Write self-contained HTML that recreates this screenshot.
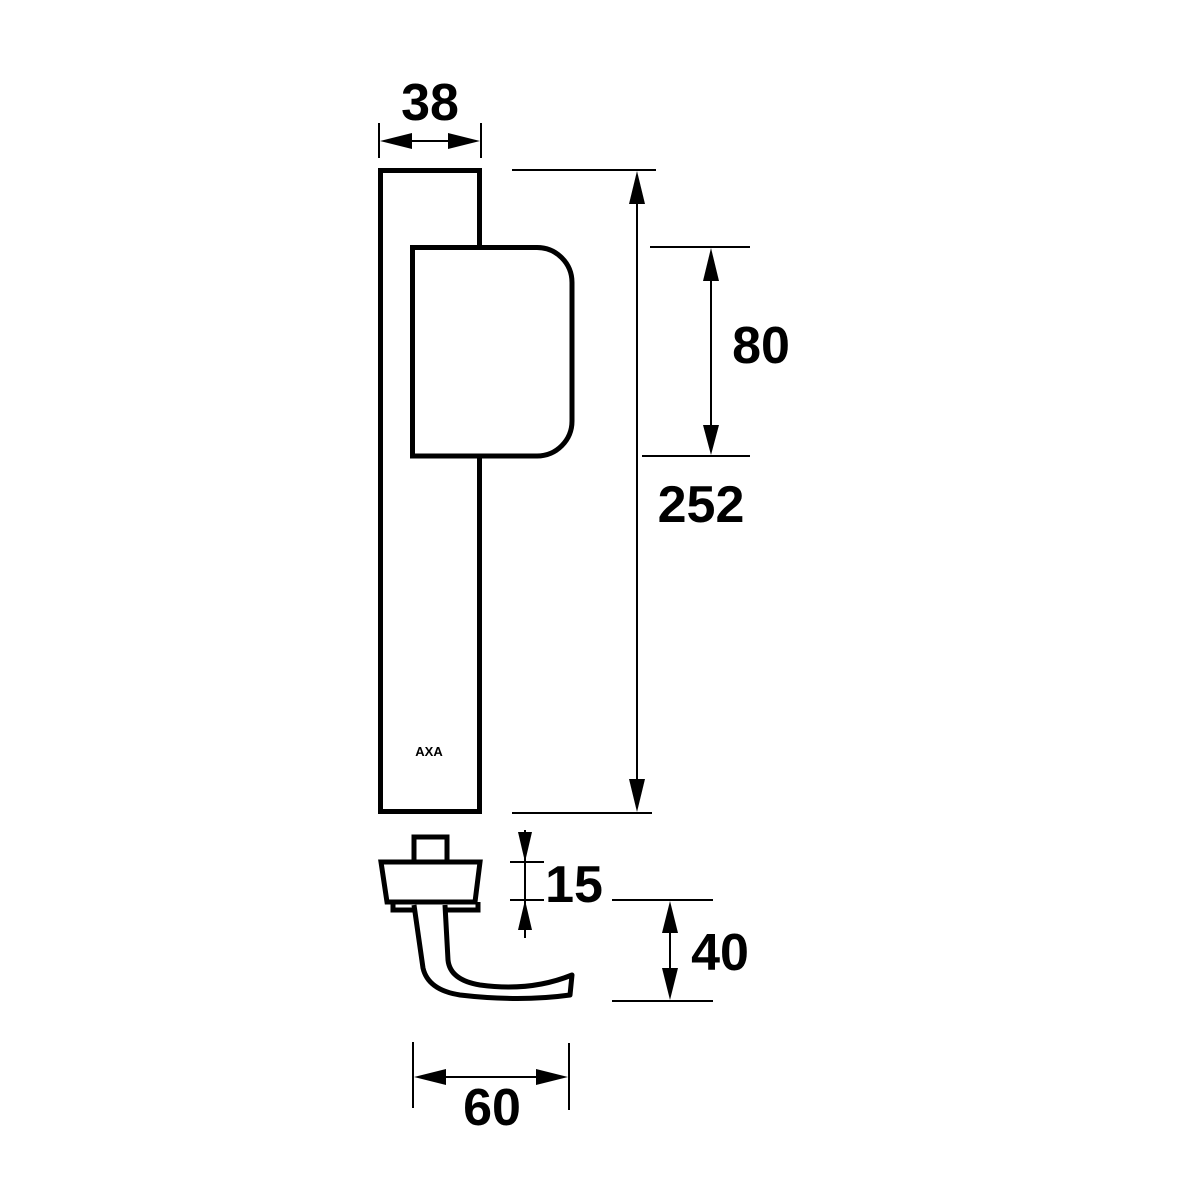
<!DOCTYPE html>
<html><head><style>html,body{margin:0;padding:0;background:#fff}svg{display:block}</style></head>
<body>
<svg width="1181" height="1181" viewBox="0 0 1181 1181" xmlns="http://www.w3.org/2000/svg" font-family="Liberation Sans, sans-serif" font-weight="bold">
<rect width="1181" height="1181" fill="#fff"/>
<!-- plate -->
<rect x="380.5" y="170.5" width="99" height="641" fill="none" stroke="#000" stroke-width="5"/>
<path d="M412.5,247.5 H537 A35,35 0 0 1 572,282.5 V421 A35,35 0 0 1 537,456 H412.5 Z" fill="#fff" stroke="#000" stroke-width="5"/>
<text x="429" y="756" font-size="13" text-anchor="middle">AXA</text>
<!-- 38 -->
<line x1="379" y1="123" x2="379" y2="158" stroke="#000" stroke-width="2"/>
<line x1="481" y1="123" x2="481" y2="158" stroke="#000" stroke-width="2"/>
<line x1="400" y1="141" x2="460" y2="141" stroke="#000" stroke-width="2"/>
<polygon points="380,141 412,133 412,149" fill="#000"/>
<polygon points="480,141 448,133 448,149" fill="#000"/>
<text x="430" y="120" font-size="52" text-anchor="middle">38</text>
<!-- 252 -->
<line x1="512" y1="170" x2="656" y2="170" stroke="#000" stroke-width="2"/>
<line x1="512" y1="813" x2="652" y2="813" stroke="#000" stroke-width="2"/>
<line x1="637" y1="190" x2="637" y2="795" stroke="#000" stroke-width="2"/>
<polygon points="637,171 629,204 645,204" fill="#000"/>
<polygon points="637,812 629,779 645,779" fill="#000"/>
<text x="701" y="522" font-size="52" text-anchor="middle">252</text>
<!-- 80 -->
<line x1="650" y1="247" x2="750" y2="247" stroke="#000" stroke-width="2"/>
<line x1="642" y1="456" x2="750" y2="456" stroke="#000" stroke-width="2"/>
<line x1="711" y1="265" x2="711" y2="440" stroke="#000" stroke-width="2"/>
<polygon points="711,248 703,281 719,281" fill="#000"/>
<polygon points="711,455 703,425 719,425" fill="#000"/>
<text x="761" y="363" font-size="52" text-anchor="middle">80</text>
<!-- handle -->
<rect x="414" y="837" width="33" height="26" fill="#fff" stroke="#000" stroke-width="5"/>
<path d="M393,902 V910 H478 V902" fill="none" stroke="#000" stroke-width="5"/>
<path d="M381,862 H480 L475,902 H387 Z" fill="#fff" stroke="#000" stroke-width="5"/>
<path d="M414,905 L423,968 Q428,990 460,995 Q520,1002 570,995 L572,975 Q530,992 480,985 Q450,980 448,960 L445,905" fill="#fff" stroke="#000" stroke-width="5" stroke-linejoin="round"/>
<!-- 15 -->
<line x1="510" y1="862" x2="544" y2="862" stroke="#000" stroke-width="2"/>
<line x1="510" y1="900" x2="544" y2="900" stroke="#000" stroke-width="2"/>
<line x1="525" y1="830" x2="525" y2="938" stroke="#000" stroke-width="2"/>
<polygon points="525,862 518,832 532,832" fill="#000"/>
<polygon points="525,900 518,930 532,930" fill="#000"/>
<text x="574" y="902" font-size="52" text-anchor="middle">15</text>
<!-- 40 -->
<line x1="612" y1="900" x2="713" y2="900" stroke="#000" stroke-width="2"/>
<line x1="612" y1="1001" x2="713" y2="1001" stroke="#000" stroke-width="2"/>
<line x1="670" y1="920" x2="670" y2="982" stroke="#000" stroke-width="2"/>
<polygon points="670,901 662,933 678,933" fill="#000"/>
<polygon points="670,1000 662,968 678,968" fill="#000"/>
<text x="720" y="970" font-size="52" text-anchor="middle">40</text>
<!-- 60 -->
<line x1="413" y1="1042" x2="413" y2="1108" stroke="#000" stroke-width="2"/>
<line x1="569" y1="1043" x2="569" y2="1110" stroke="#000" stroke-width="2"/>
<line x1="430" y1="1077" x2="552" y2="1077" stroke="#000" stroke-width="2"/>
<polygon points="414,1077 446,1069 446,1085" fill="#000"/>
<polygon points="568,1077 536,1069 536,1085" fill="#000"/>
<text x="492" y="1125" font-size="52" text-anchor="middle">60</text>
</svg>
</body></html>
